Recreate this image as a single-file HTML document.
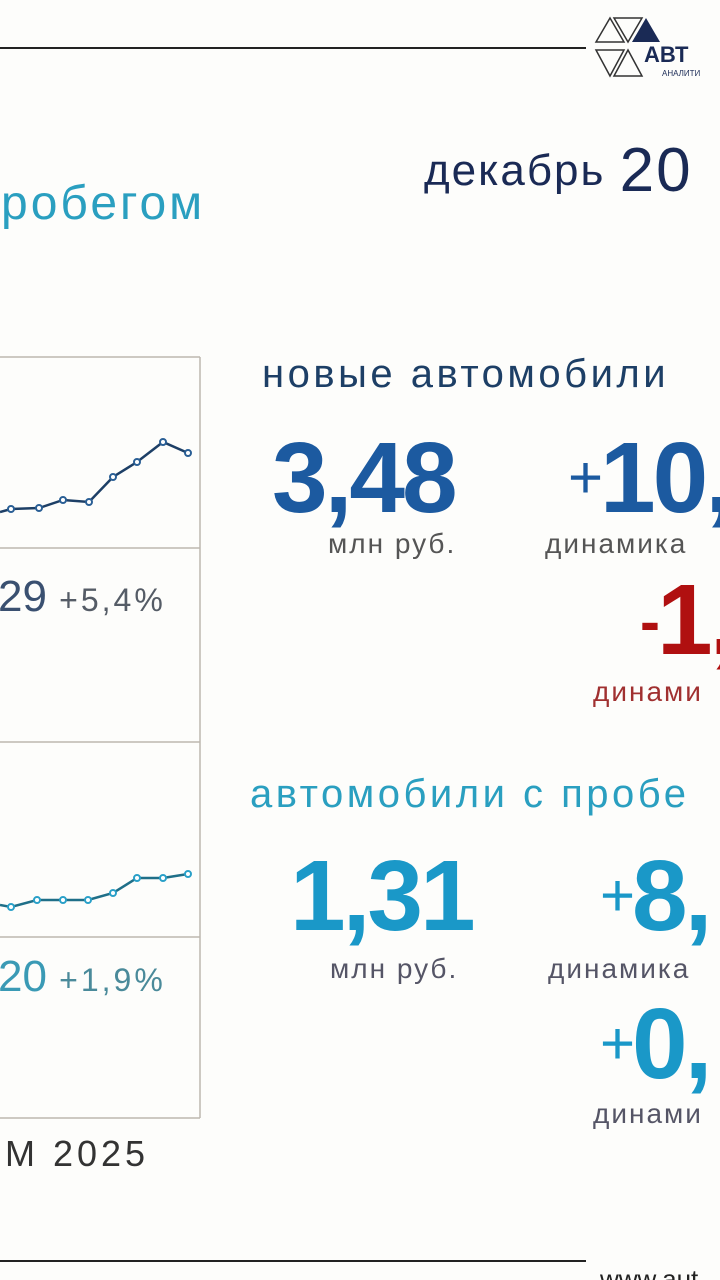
<!DOCTYPE html><html><head><meta charset="utf-8"><style>
html,body{margin:0;width:720px;height:1280px;overflow:hidden}
body{background:#fdfdfb;position:relative;font-family:"Liberation Sans","DejaVu Sans",sans-serif}
.t{position:absolute;white-space:nowrap;line-height:1}
</style></head><body>
<div style="position:absolute;left:0;top:47px;width:586px;height:2px;background:#222"></div>
<svg style="position:absolute;left:592px;top:14px" width="128" height="70">
<g fill="none" stroke="#333" stroke-width="1.5"><polygon points="4,28 18,4 32,28"/><polygon points="22,4 36,28 50,4"/><polygon points="4,36 18,62 32,36"/><polygon points="22,62 36,36 50,62"/></g>
<polygon points="40,28 54,4 68,28" fill="#1a2a55"/>
<text x="52" y="48" font-family="Liberation Sans" font-weight="bold" font-size="22" fill="#1a2a55">АВТ</text>
<text x="70" y="62" font-family="Liberation Sans" font-size="8" fill="#1a2a55">АНАЛИТИ</text></svg>
<div class="t" style="left:424px;top:134px;font-size:44px;color:#1a2a55;letter-spacing:2px">декабрь <span style="font-size:62px;position:relative;top:6px">20</span></div>
<div class="t" style="left:-28px;top:180px;font-size:48px;color:#2a9fc0;letter-spacing:3px">пробегом</div>
<svg style="position:absolute;left:0;top:0" width="720" height="1280">
<g stroke="#bdb8b0" stroke-width="1.5" fill="none">
<line x1="0" y1="357" x2="200" y2="357"/><line x1="200" y1="357" x2="200" y2="1118"/>
<line x1="0" y1="548" x2="200" y2="548"/><line x1="0" y1="742" x2="200" y2="742"/>
<line x1="0" y1="937" x2="200" y2="937"/><line x1="0" y1="1118" x2="200" y2="1118"/></g>
<polyline points="0,512 11,509 39,508 63,500 89,502 113,477 137,462 163,442 188,453" fill="none" stroke="#1d3f66" stroke-width="2.5"/>
<g fill="#fff" stroke="#2a5f95" stroke-width="2"><circle cx="11" cy="509" r="3"/><circle cx="39" cy="508" r="3"/><circle cx="63" cy="500" r="3"/><circle cx="89" cy="502" r="3"/><circle cx="113" cy="477" r="3"/><circle cx="137" cy="462" r="3"/><circle cx="163" cy="442" r="3"/><circle cx="188" cy="453" r="3"/></g>
<polyline points="0,905 11,907 37,900 63,900 88,900 113,893 137,878 163,878 188,874" fill="none" stroke="#1f6f88" stroke-width="2.5"/>
<g fill="#fff" stroke="#2aa0c8" stroke-width="2"><circle cx="11" cy="907" r="3"/><circle cx="37" cy="900" r="3"/><circle cx="63" cy="900" r="3"/><circle cx="88" cy="900" r="3"/><circle cx="113" cy="893" r="3"/><circle cx="137" cy="878" r="3"/><circle cx="163" cy="878" r="3"/><circle cx="188" cy="874" r="3"/></g>
<line x1="0" y1="1261" x2="586" y2="1261" stroke="#222" stroke-width="2"/>
</svg>
<div class="t" style="left:-2px;top:575px;font-size:44px;color:#3a5070">29 <span style="font-size:32px;color:#555c66;letter-spacing:3px">+5,4%</span></div>
<div class="t" style="left:-2px;top:955px;font-size:44px;color:#3a9ab5">20 <span style="font-size:32px;color:#4a8a9a;letter-spacing:3px">+1,9%</span></div>
<div class="t" style="left:5px;top:1136px;font-size:36px;color:#333;letter-spacing:4px">M 2025</div>
<div class="t" style="left:600px;top:1266px;font-size:26px;color:#222">www.aut</div>
<div class="t" style="left:262px;top:354px;font-size:40px;color:#1d3f66;letter-spacing:3.5px">новые автомобили</div>
<div class="t" style="left:272px;top:428px;font-size:100px;font-weight:bold;color:#1c5aa0;letter-spacing:-3px">3,48</div>
<div class="t" style="left:328px;top:530px;font-size:28px;color:#555;letter-spacing:2px">млн руб.</div>
<div class="t" style="left:568px;top:428px;font-size:100px;font-weight:bold;color:#1c5aa0;letter-spacing:-3px"><span style="font-weight:normal;font-size:60px;position:relative;top:-14px">+</span>10,</div>
<div class="t" style="left:545px;top:530px;font-size:28px;color:#555;letter-spacing:2px">динамика</div>
<div class="t" style="left:640px;top:570px;font-size:100px;font-weight:bold;color:#b01010;letter-spacing:-3px"><span style="font-size:60px;position:relative;top:-12px">-</span>1,</div>
<div class="t" style="left:593px;top:678px;font-size:28px;color:#a03030;letter-spacing:2px">динами</div>
<div class="t" style="left:250px;top:774px;font-size:40px;color:#2a9fc0;letter-spacing:3.5px">автомобили с пробе</div>
<div class="t" style="left:290px;top:846px;font-size:100px;font-weight:bold;color:#1a98c8;letter-spacing:-3px">1,31</div>
<div class="t" style="left:330px;top:955px;font-size:28px;color:#556;letter-spacing:2px">млн руб.</div>
<div class="t" style="left:600px;top:846px;font-size:100px;font-weight:bold;color:#1a98c8;letter-spacing:-3px"><span style="font-weight:normal;font-size:60px;position:relative;top:-14px">+</span>8,</div>
<div class="t" style="left:548px;top:955px;font-size:28px;color:#556;letter-spacing:2px">динамика</div>
<div class="t" style="left:600px;top:994px;font-size:100px;font-weight:bold;color:#1a98c8;letter-spacing:-3px"><span style="font-weight:normal;font-size:60px;position:relative;top:-14px">+</span>0,</div>
<div class="t" style="left:593px;top:1100px;font-size:28px;color:#556;letter-spacing:2px">динами</div>
</body></html>
